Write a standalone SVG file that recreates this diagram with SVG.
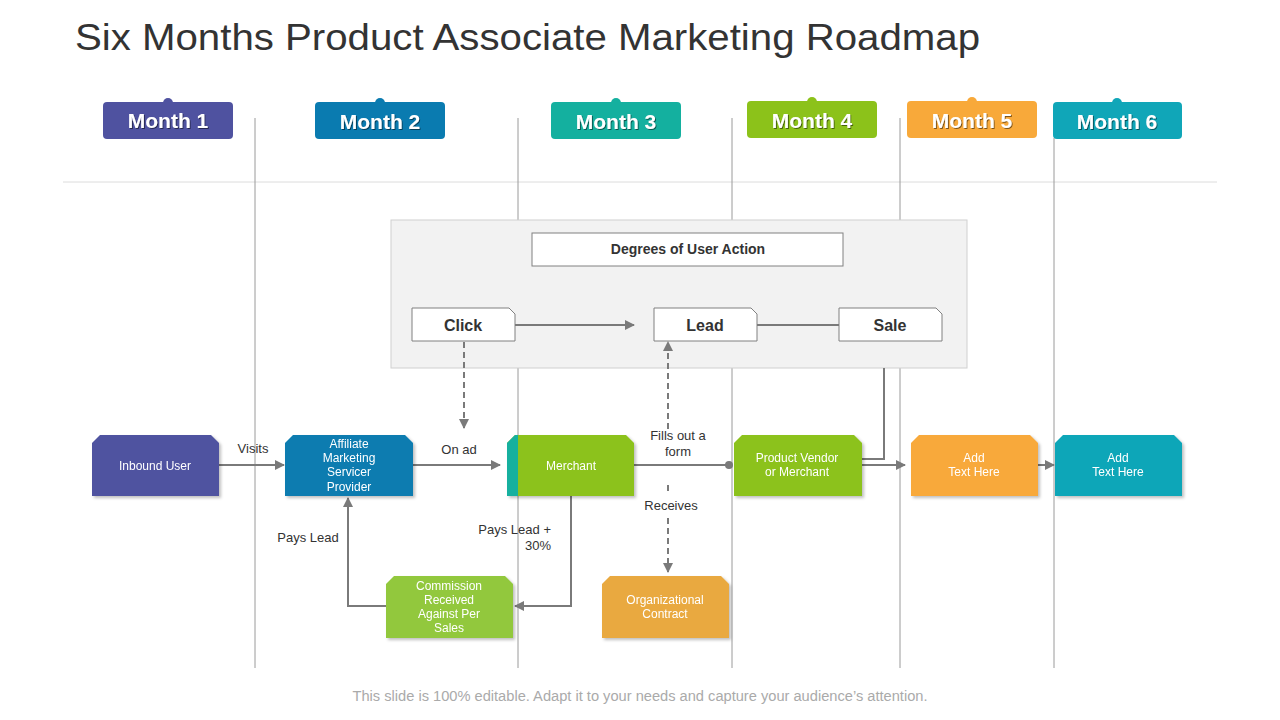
<svg xmlns="http://www.w3.org/2000/svg" width="1280" height="720" viewBox="0 0 1280 720">
<defs>
<style>
.title{font-family:"Liberation Sans",Arial,sans-serif;font-size:36px;fill:#333}
.mtxt{font-family:"Liberation Sans",Arial,sans-serif;font-size:21px;font-weight:bold;fill:#fff;text-anchor:middle}
.ntxt{font-family:"Liberation Sans",Arial,sans-serif;font-size:12px;fill:#fff;text-anchor:middle}
.lbl{font-family:"Liberation Sans",Arial,sans-serif;font-size:13px;fill:#333;text-anchor:middle}
.btxt{font-family:"Liberation Sans",Arial,sans-serif;font-size:16px;font-weight:bold;fill:#333;text-anchor:middle}
.foot{font-family:"Liberation Sans",Arial,sans-serif;font-size:14px;fill:#aaa;text-anchor:middle}
.vline{stroke:#9a9a9a;stroke-width:1;fill:none}
.conn{stroke:#7a7a7a;stroke-width:2;fill:none}
.dash{stroke:#7a7a7a;stroke-width:2;fill:none;stroke-dasharray:6 4}
.doc{fill:#fff;stroke:#808080;stroke-width:1}
</style>
<marker id="arr" viewBox="0 0 10 10" refX="9" refY="5" markerWidth="5" markerHeight="5" orient="auto-start-reverse">
<path d="M0,0 L10,5 L0,10 Z" fill="#7a7a7a"/>
</marker>
<filter id="sh" x="-10%" y="-10%" width="125%" height="130%">
<feDropShadow dx="2" dy="2" stdDeviation="1.5" flood-color="#000" flood-opacity="0.25"/>
</filter>
<filter id="ts" x="-10%" y="-20%" width="120%" height="150%">
<feDropShadow dx="1" dy="1" stdDeviation="0.6" flood-color="#000" flood-opacity="0.5"/>
</filter>
</defs>
<rect width="1280" height="720" fill="#fff"/>
<text class="title" x="75" y="50" textLength="905" lengthAdjust="spacingAndGlyphs">Six Months Product Associate Marketing Roadmap</text>

<g id="grid">
<line x1="63" y1="182" x2="1217" y2="182" stroke="#dcdcdc" stroke-width="1"/>
<line class="vline" x1="255" y1="118" x2="255" y2="668"/>
<line class="vline" x1="518" y1="118" x2="518" y2="668"/>
<line class="vline" x1="732" y1="118" x2="732" y2="668"/>
<line class="vline" x1="900" y1="118" x2="900" y2="668"/>
<line class="vline" x1="1054" y1="138" x2="1054" y2="668"/>
</g>

<g id="month1"><circle cx="168" cy="103" r="5" fill="#4f52a0"/><rect x="103" y="102" width="130" height="37" rx="4" fill="#4f52a0"/><text class="mtxt" x="168" y="128" filter="url(#ts)">Month 1</text></g>
<g id="month2"><circle cx="380" cy="103" r="5" fill="#0a7bb0"/><rect x="315" y="102" width="130" height="37" rx="4" fill="#0a7bb0"/><text class="mtxt" x="380" y="129" filter="url(#ts)">Month 2</text></g>
<g id="month3"><circle cx="616" cy="103" r="5" fill="#14b09f"/><rect x="551" y="102" width="130" height="37" rx="4" fill="#14b09f"/><text class="mtxt" x="616" y="129" filter="url(#ts)">Month 3</text></g>
<g id="month4"><circle cx="812" cy="102" r="5" fill="#8cc21a"/><rect x="747" y="101" width="130" height="37" rx="4" fill="#8cc21a"/><text class="mtxt" x="812" y="128" filter="url(#ts)">Month 4</text></g>
<g id="month5"><circle cx="972" cy="102" r="5" fill="#f8a93a"/><rect x="907" y="101" width="130" height="37" rx="4" fill="#f8a93a"/><text class="mtxt" x="972" y="128" filter="url(#ts)">Month 5</text></g>
<g id="month6"><circle cx="1117" cy="103" r="5" fill="#10a6b8"/><rect x="1053" y="102" width="129" height="37" rx="4" fill="#10a6b8"/><text class="mtxt" x="1117" y="129" filter="url(#ts)">Month 6</text></g>

<g id="degrees-panel">
<rect x="391" y="220" width="576" height="148" fill="#f2f2f2" stroke="#d0d0d0" stroke-width="1"/>
<rect x="532" y="233" width="311" height="33" fill="#fff" stroke="#808080" stroke-width="1"/>
<text x="688" y="254" font-family="Liberation Sans, Arial, sans-serif" font-size="14" font-weight="bold" fill="#333" text-anchor="middle">Degrees of User Action</text>
</g>
<g id="click"><path class="doc" d="M412,308 H509 L515,314 V341 H412 Z"/><text class="btxt" x="463" y="331">Click</text></g>
<g id="lead"><path class="doc" d="M654,308 H751 L757,314 V341 H654 Z"/><text class="btxt" x="705" y="331">Lead</text></g>
<g id="sale"><path class="doc" d="M839,308 H936 L942,314 V341 H839 Z"/><text class="btxt" x="890" y="331">Sale</text></g>

<g id="connectors">
<line class="conn" x1="515" y1="325" x2="634" y2="325" marker-end="url(#arr)"/>
<line class="conn" x1="757" y1="325" x2="839" y2="325"/>
<polyline class="conn" points="884,368 884,459 862,459"/>
<line class="dash" x1="464" y1="342" x2="464" y2="428" marker-end="url(#arr)"/>
<line class="dash" x1="668" y1="429" x2="668" y2="342" marker-end="url(#arr)"/>
<line class="dash" x1="668" y1="485" x2="668" y2="493"/>
<line class="dash" x1="668" y1="518" x2="668" y2="572" marker-end="url(#arr)"/>
<line class="conn" x1="219" y1="465" x2="284" y2="465" marker-end="url(#arr)"/>
<line class="conn" x1="413" y1="465" x2="500" y2="465" marker-end="url(#arr)"/>
<line class="conn" x1="634" y1="465" x2="728" y2="465"/>
<circle cx="729" cy="465" r="4" fill="#7a7a7a"/>
<line class="conn" x1="862" y1="465" x2="905" y2="465" marker-end="url(#arr)"/>
<line class="conn" x1="1038" y1="465" x2="1054" y2="465" marker-end="url(#arr)"/>
<polyline class="conn" points="571,496 571,606 515,606" marker-end="url(#arr)"/>
<polyline class="conn" points="386,606 348,606 348,498" marker-end="url(#arr)"/>
<text class="lbl" x="253" y="453">Visits</text>
<text class="lbl" x="459" y="454">On ad</text>
<text class="lbl" x="678" y="440">Fills out a</text>
<text class="lbl" x="678" y="456">form</text>
<text class="lbl" x="671" y="510">Receives</text>
<text class="lbl" x="551" y="534" style="text-anchor:end">Pays Lead +</text>
<text class="lbl" x="551" y="550" style="text-anchor:end">30%</text>
<text class="lbl" x="308" y="542">Pays Lead</text>
</g>

<g id="inbound-user" filter="url(#sh)"><path d="M92,443 L100,435 H211 L219,443 V496 H92 Z" fill="#4f52a0"/><text class="ntxt" x="155" y="470">Inbound User</text></g>
<g id="affiliate" filter="url(#sh)"><path d="M285,443 L293,435 H405 L413,443 V496 H285 Z" fill="#0a7bb0"/>
<text class="ntxt" x="349" y="448">Affiliate</text><text class="ntxt" x="349" y="462">Marketing</text><text class="ntxt" x="349" y="476">Servicer</text><text class="ntxt" x="349" y="491">Provider</text></g>
<g id="merchant" filter="url(#sh)"><path d="M507,443 L515,435 H626 L634,443 V496 H507 Z" fill="#8cc21a"/><path d="M507,443 L515,435 H518 V496 H507 Z" fill="#14b09f"/><text class="ntxt" x="571" y="470">Merchant</text></g>
<g id="product-vendor" filter="url(#sh)"><path d="M734,443 L742,435 H854 L862,443 V496 H734 Z" fill="#8cc21a"/><text class="ntxt" x="797" y="462">Product Vendor</text><text class="ntxt" x="797" y="476">or Merchant</text></g>
<g id="add-text-1" filter="url(#sh)"><path d="M911,443 L919,435 H1030 L1038,443 V496 H911 Z" fill="#f8a93a"/><text class="ntxt" x="974" y="462">Add</text><text class="ntxt" x="974" y="476">Text Here</text></g>
<g id="add-text-2" filter="url(#sh)"><path d="M1055,443 L1063,435 H1174 L1182,443 V496 H1055 Z" fill="#10a6b8"/><text class="ntxt" x="1118" y="462">Add</text><text class="ntxt" x="1118" y="476">Text Here</text></g>
<g id="commission" filter="url(#sh)"><path d="M386,584 L394,576 H505 L513,584 V638 H386 Z" fill="#92c83e"/>
<text class="ntxt" x="449" y="590">Commission</text><text class="ntxt" x="449" y="604">Received</text><text class="ntxt" x="449" y="618">Against Per</text><text class="ntxt" x="449" y="632">Sales</text></g>
<g id="org-contract" filter="url(#sh)"><path d="M602,584 L610,576 H721 L729,584 V638 H602 Z" fill="#e9a93f"/><text class="ntxt" x="665" y="604">Organizational</text><text class="ntxt" x="665" y="618">Contract</text></g>

<text class="foot" x="640" y="701" textLength="575" lengthAdjust="spacingAndGlyphs">This slide is 100% editable.  Adapt it to your needs and capture your audience’s attention.</text>
</svg>
